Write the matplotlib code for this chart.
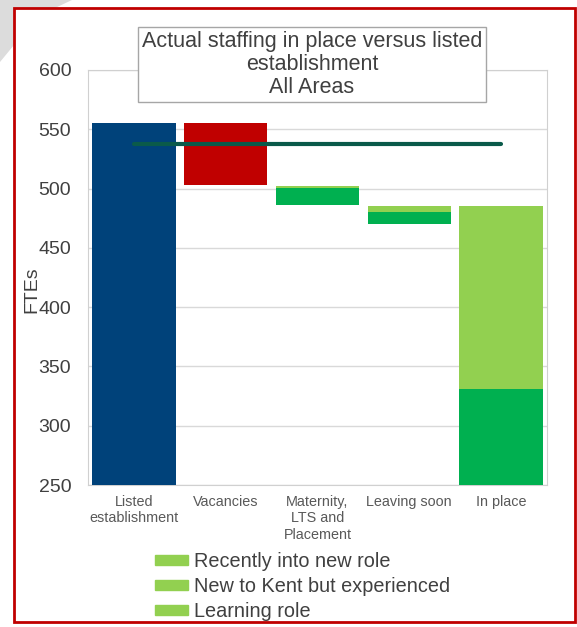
import matplotlib
matplotlib.use("Agg")
import matplotlib.pyplot as plt
from matplotlib.patches import Rectangle, Polygon

categories = ["Listed\nestablishment", "Vacancies", "Maternity,\nLTS and\nPlacement", "Leaving soon", "In place"]
base = [0, 503, 486, 470, 0]
establishment = [555, 0, 0, 0, 0]
vacancies = [0, 52, 0, 0, 0]
dark_green = [0, 0, 14.5, 10, 331]
light_green = [0, 0, 1.5, 5, 154]
target_line = 538
legend_labels = ["Recently into new role", "New to Kent but experienced", "Learning role"]
yticks = [250, 300, 350, 400, 450, 500, 550, 600]

plt.rcParams['font.family'] = ['Liberation Sans', 'DejaVu Sans']

W, H = 577, 627
fig = plt.figure(figsize=(W/100, H/100), dpi=100)

# faint grey swoosh in the top-left corner
fig.patches.append(Polygon([(0, 1), (72/W, 1), (55/W, 1-8/H), (14/W, 1-8/H), (14/W, 1-45/H), (0, 1-62/H)],
                           closed=True, transform=fig.transFigure, fc="#DCDCDC", ec="none", zorder=0))

ax = fig.add_axes([88/W, 1-485/H, (547-88)/W, (485-70)/H])

x = list(range(len(categories)))
w = 0.91
ax.bar(x, establishment, w, bottom=base, color="#00427A", zorder=3)
ax.bar(x, vacancies, w, bottom=base, color="#C00000", zorder=3)
b2 = [b + v for b, v in zip(base, dark_green)]
ax.bar(x, dark_green, w, bottom=base, color="#00B050", zorder=3)
ax.bar(x, light_green, w, bottom=b2, color="#92D050", zorder=3)
ax.plot([0, 4], [target_line, target_line], color="#0A5A4A", lw=3, solid_capstyle="round", zorder=4)

ax.set_xlim(-0.5, 4.5)
ax.set_ylim(250, 600)
ax.set_yticks(yticks)
ax.set_yticklabels([str(t) for t in yticks], fontsize=14, color="#404040")
ax.set_xticks(x)
ax.set_xticklabels(categories, fontsize=10.4, color="#595959", linespacing=1.25)
ax.tick_params(axis="both", length=0)
ax.tick_params(axis="x", pad=7)
ax.tick_params(axis="y", pad=12)
ax.grid(axis="y", color="#D9D9D9", lw=1, zorder=0)
for s in ax.spines.values():
    s.set_color("#D0D0D0")
ax.set_ylabel("FTEs", fontsize=14, color="#404040")
ax.yaxis.set_label_coords((40-88)/(547-88), (485-290)/415)

fig.text((137+487)/2/W, 1-64.5/H, "Actual staffing in place versus listed\nestablishment\nAll Areas",
         ha="center", va="center", fontsize=15.5, color="#404040", linespacing=1.12,
         bbox=dict(boxstyle="square,pad=0.2", fc="white", ec="#A6A6A6", lw=1), zorder=10)

handles = [Rectangle((0, 0), 1, 1, color="#92D050") for _ in legend_labels]
fig.legend(handles, legend_labels, loc="upper left", bbox_to_anchor=(155/W, 1-552/H),
           frameon=False, fontsize=14.3, handlelength=1.65, handleheight=0.4, handletextpad=0.3,
           labelspacing=0.3, labelcolor="#404040", borderpad=0, borderaxespad=0)

fig.patches.append(Rectangle((14/W, 1-622/H), (575-14)/W, (622-8)/H, transform=fig.transFigure,
                             fill=False, ec="#C00000", lw=2, zorder=20))

fig.savefig("out.png", dpi=100)
